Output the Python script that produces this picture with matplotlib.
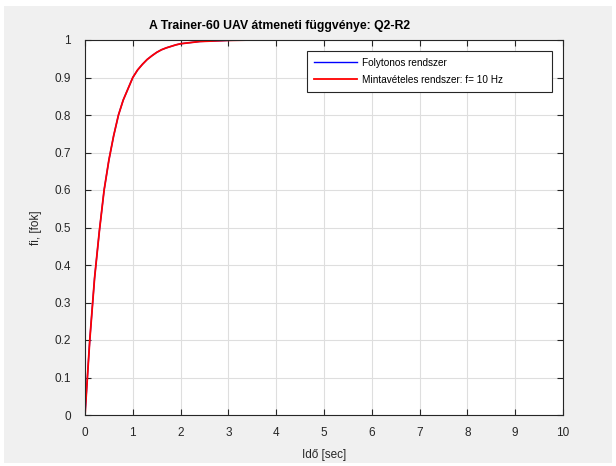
import matplotlib
matplotlib.use("Agg")
import matplotlib.pyplot as plt
from matplotlib.patches import Rectangle

plt.rcParams['font.family'] = ['Liberation Sans', 'DejaVu Sans']

# step response (both systems lie on top of each other)
t = [0.0, 0.1, 0.2, 0.3, 0.4, 0.5, 0.6, 0.7, 0.8, 0.9, 1.0, 1.1, 1.2, 1.3, 1.4,
     1.5, 1.6, 1.7, 1.8, 1.9, 2.0, 2.2, 2.4, 2.6, 2.8, 3.0, 3.5, 10.0]
y_cont = [0.0, 0.20, 0.365, 0.49, 0.60, 0.68, 0.745, 0.80, 0.84, 0.87, 0.90,
          0.92, 0.935, 0.948, 0.958, 0.967, 0.974, 0.979, 0.983, 0.987, 0.990,
          0.993, 0.996, 0.997, 0.998, 0.999, 1.0, 1.0]
y_disc = [0.0, 0.20, 0.365, 0.49, 0.60, 0.68, 0.745, 0.80, 0.84, 0.87, 0.90,
          0.92, 0.935, 0.948, 0.958, 0.967, 0.974, 0.979, 0.983, 0.987, 0.990,
          0.993, 0.996, 0.997, 0.998, 0.999, 1.0, 1.0]

xticks = list(range(0, 11))
yticks = [0, 0.1, 0.2, 0.3, 0.4, 0.5, 0.6, 0.7, 0.8, 0.9, 1]
ytick_labels = ["0", "0.1", "0.2", "0.3", "0.4", "0.5", "0.6", "0.7", "0.8", "0.9", "1"]

fig = plt.figure(figsize=(6.16, 4.66), dpi=100, facecolor="white")
bg = Rectangle((4 / 616, 3 / 466), 608 / 616, 457 / 466,
               transform=fig.transFigure, facecolor="#f0f0f0",
               edgecolor="none", zorder=-10)
fig.add_artist(bg)

ax = fig.add_axes([85 / 616, 51 / 466, 478 / 616, 375 / 466])
ax.set_zorder(1)
ax.plot(t, y_cont, color="#0000ff", lw=1.0, label="Folytonos rendszer")
ax.plot(t, y_disc, color="#ff0000", lw=1.3, label="Mintavételes rendszer: f= 10 Hz")

ax.set_xlim(0, 10)
ax.set_ylim(0, 1)
ax.set_xticks(xticks)
ax.set_yticks(yticks)
ax.set_yticklabels(ytick_labels)
ax.grid(True, color="#dedede", lw=0.8)
ax.set_axisbelow(True)
ax.tick_params(direction="in", length=4, width=0.8, colors="#262626",
               labelsize=8.5, top=True, right=True)
ax.tick_params(axis="x", pad=9)
ax.tick_params(axis="y", pad=10)
for s in ax.spines.values():
    s.set_color("#262626")
    s.set_linewidth(0.8)

ax.set_title("A Trainer-60 UAV átmeneti függvénye: Q2-R2", fontsize=8.8,
             fontweight="bold", x=0.408, pad=8)
ax.set_xlabel("Idő [sec]", fontsize=8.5, color="#262626", labelpad=7)
ax.set_ylabel("fi, [fok]", fontsize=8.5, color="#262626", labelpad=9)

leg = ax.legend(loc="upper left", bbox_to_anchor=(0.4644, 0.864, 0.5126, 0.1067),
                mode="expand", fontsize=7.2, fancybox=False, edgecolor="#262626",
                framealpha=1, handlelength=4.3, handletextpad=0.5,
                borderpad=0.7, labelspacing=0.7, borderaxespad=0)
leg.get_frame().set_linewidth(0.8)

fig.savefig("out.png", dpi=100, facecolor=fig.get_facecolor())
